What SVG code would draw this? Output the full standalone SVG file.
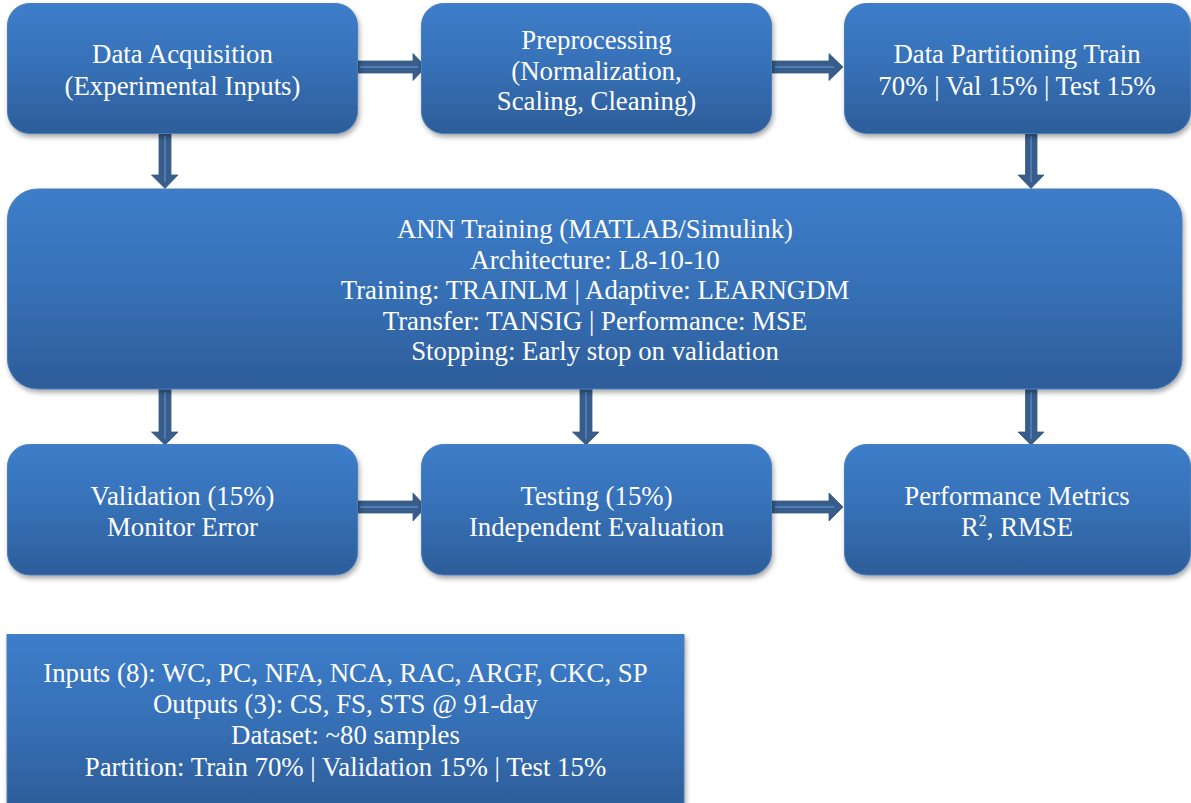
<svg xmlns="http://www.w3.org/2000/svg" width="1191" height="803" viewBox="0 0 1191 803">
<defs>
  <linearGradient id="g" x1="0" y1="0" x2="0" y2="1">
    <stop offset="0" stop-color="#3D7DCA"/>
    <stop offset="0.5" stop-color="#3670B6"/>
    <stop offset="1" stop-color="#2D5D99"/>
  </linearGradient>
  <filter id="sh" x="-10%" y="-10%" width="120%" height="130%">
    <feDropShadow dx="1.5" dy="3" stdDeviation="2.5" flood-color="#000" flood-opacity="0.35"/>
  </filter>
  <style>
    .box{fill:url(#g);stroke:#4A7EBB;stroke-width:1;filter:url(#sh)}
    .t{font-family:"Liberation Serif","Times New Roman",serif;font-size:26.8px;fill:#fff;text-anchor:middle}
    .ar{fill:#385D8A;stroke:#385D8A;stroke-width:0.8;stroke-linejoin:miter}
    .al{stroke:#5A8BCB;stroke-width:1.3;fill:none}
  </style>
</defs>
<rect width="1191" height="803" fill="#fff"/>

<g id="connectors">
  <path class="ar" d="M357,61 H413 V53.5 L426,67 L413,80.5 V73 H357 Z"/>
  <line class="al" x1="360" y1="67" x2="418" y2="67"/>
  <path class="ar" d="M772,61 H829 V53.5 L843,67 L829,80.5 V73 H772 Z"/>
  <line class="al" x1="775" y1="67" x2="834" y2="67"/>
  <path class="ar" d="M357,501 H413 V493 L426,507 L413,521 V513 H357 Z"/>
  <line class="al" x1="360" y1="507" x2="418" y2="507"/>
  <path class="ar" d="M772,501 H829 V493 L843,507 L829,521 V513 H772 Z"/>
  <line class="al" x1="775" y1="507" x2="834" y2="507"/>
  <path class="ar" d="M159,133 H171 V175 H178 L165,188.5 L151.5,175 H159 Z"/>
  <line class="al" x1="165" y1="136" x2="165" y2="182"/>
  <path class="ar" d="M1025.5,133 H1037 V175 H1044 L1031,188.5 L1018,175 H1025.5 Z"/>
  <line class="al" x1="1031" y1="136" x2="1031" y2="182"/>
  <path class="ar" d="M159,389 H171 V432 H178 L165,445 L151.5,432 H159 Z"/>
  <line class="al" x1="165" y1="392" x2="165" y2="439"/>
  <path class="ar" d="M580,389 H592 V432 H599 L586,445 L572.5,432 H580 Z"/>
  <line class="al" x1="586" y1="392" x2="586" y2="439"/>
  <path class="ar" d="M1025.5,389 H1037 V432 H1044 L1031,445 L1018,432 H1025.5 Z"/>
  <line class="al" x1="1031" y1="392" x2="1031" y2="439"/>
</g>

<g id="n1">
  <rect class="box" x="7.5" y="3.5" width="350" height="130" rx="22"/>
  <text class="t" x="182.5" y="63">Data Acquisition</text>
  <text class="t" x="182.5" y="95">(Experimental Inputs)</text>
</g>
<g id="n2">
  <rect class="box" x="421.5" y="3.5" width="350" height="130" rx="22"/>
  <text class="t" x="596.5" y="49">Preprocessing</text>
  <text class="t" x="596.5" y="80">(Normalization,</text>
  <text class="t" x="596.5" y="110">Scaling, Cleaning)</text>
</g>
<g id="n3">
  <rect class="box" x="844.5" y="3.5" width="346" height="130" rx="22"/>
  <text class="t" x="1017" y="63">Data Partitioning Train</text>
  <text class="t" x="1017" y="95">70% | Val 15% | Test 15%</text>
</g>
<g id="n4">
  <rect class="box" x="7.5" y="189" width="1174.5" height="200" rx="30"/>
  <text class="t" x="595" y="238">ANN Training (MATLAB/Simulink)</text>
  <text class="t" x="595" y="269">Architecture: L8-10-10</text>
  <text class="t" x="595" y="299">Training: TRAINLM | Adaptive: LEARNGDM</text>
  <text class="t" x="595" y="330">Transfer: TANSIG | Performance: MSE</text>
  <text class="t" x="595" y="360">Stopping: Early stop on validation</text>
</g>
<g id="n5">
  <rect class="box" x="7.5" y="444.5" width="350" height="130.5" rx="22"/>
  <text class="t" x="182.5" y="505">Validation (15%)</text>
  <text class="t" x="182.5" y="536">Monitor Error</text>
</g>
<g id="n6">
  <rect class="box" x="421.5" y="444.5" width="350" height="130.5" rx="22"/>
  <text class="t" x="596.5" y="505">Testing (15%)</text>
  <text class="t" x="596.5" y="536">Independent Evaluation</text>
</g>
<g id="n7">
  <rect class="box" x="844.5" y="444.5" width="346" height="130.5" rx="22"/>
  <text class="t" x="1017" y="505">Performance Metrics</text>
  <text class="t" x="1017" y="536">R<tspan font-size="16" dy="-10">2</tspan><tspan dy="10">, RMSE</tspan></text>
</g>
<g id="n8">
  <rect class="box" x="7" y="634.5" width="677" height="175" rx="0"/>
  <text class="t" x="345.5" y="682">Inputs (8): WC, PC, NFA, NCA, RAC, ARGF, CKC, SP</text>
  <text class="t" x="345.5" y="713">Outputs (3): CS, FS, STS @ 91-day</text>
  <text class="t" x="345.5" y="744">Dataset: ~80 samples</text>
  <text class="t" x="345.5" y="776">Partition: Train 70% | Validation 15% | Test 15%</text>
</g>
</svg>
